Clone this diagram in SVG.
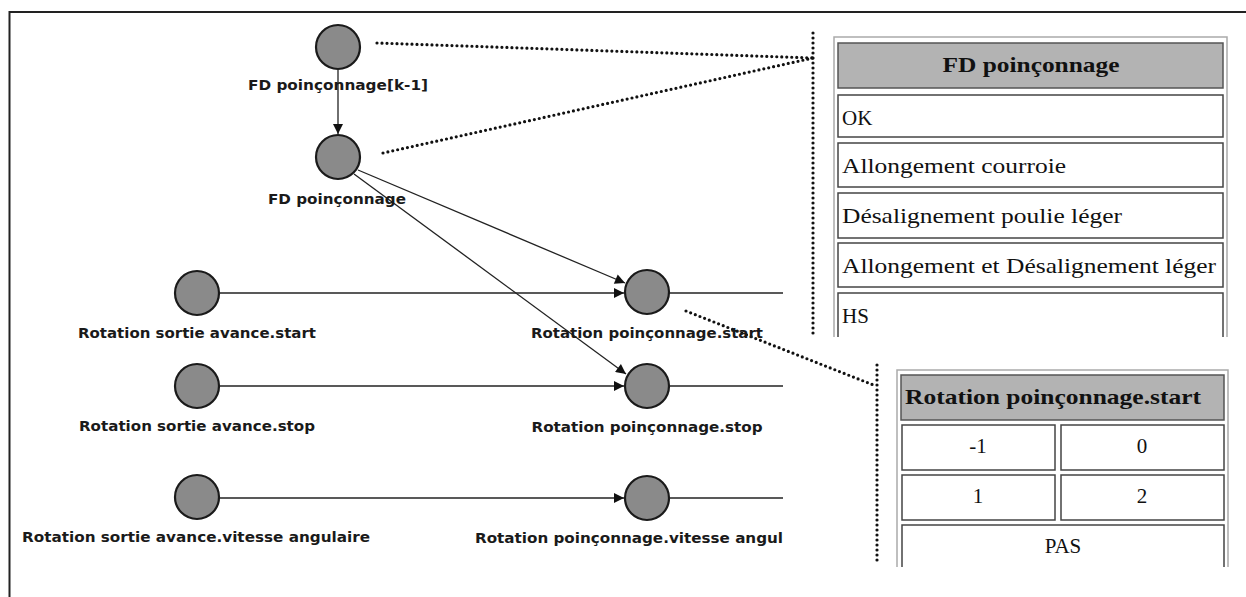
<svg xmlns="http://www.w3.org/2000/svg" width="1246" height="597" viewBox="0 0 1246 597">
<defs>
<marker id="arr" viewBox="0 0 10 10" refX="10" refY="5" markerWidth="11" markerHeight="10" markerUnits="userSpaceOnUse" orient="auto">
<path d="M0,0 L10,5 L0,10 Z" fill="#111"/>
</marker>
</defs>
<style>
.nd{fill:#8a8a8a;stroke:#1a1a1a;stroke-width:2.2}
.lbl{font-family:"DejaVu Sans",Verdana,sans-serif;font-weight:bold;font-size:13.5px;fill:#1a1a1a;text-anchor:middle}
.ln{stroke:#222;stroke-width:1.3;fill:none}
.dot{stroke:#111;stroke-width:3.2;stroke-linecap:round;stroke-dasharray:0 5;fill:none}
.tb{fill:#fff;stroke:#aaa;stroke-width:1.5}
.hd{fill:#b3b3b3;stroke:#555;stroke-width:1.5}
.cell{fill:#fff;stroke:#444;stroke-width:1.5}
.tt{font-family:"Liberation Serif","Times New Roman",serif;font-size:21px;fill:#111}
.th{font-family:"Liberation Serif","Times New Roman",serif;font-size:21px;font-weight:bold;fill:#111}
</style>
<rect width="1246" height="597" fill="#fff"/>
<path d="M9.5,597 V12 H1246" fill="none" stroke="#222" stroke-width="2"/>

<g id="connectors">
<line class="ln" x1="338" y1="70" x2="338" y2="134" marker-end="url(#arr)"/>
<line class="ln" x1="358" y1="170" x2="625" y2="283" marker-end="url(#arr)"/>
<line class="ln" x1="354" y1="174" x2="626" y2="374" marker-end="url(#arr)"/>
<line class="ln" x1="220" y1="293" x2="624" y2="293" marker-end="url(#arr)"/>
<line class="ln" x1="220" y1="386" x2="624" y2="386" marker-end="url(#arr)"/>
<line class="ln" x1="220" y1="498" x2="624" y2="498" marker-end="url(#arr)"/>
<line class="ln" x1="670" y1="293" x2="783" y2="293"/>
<line class="ln" x1="670" y1="386" x2="783" y2="386"/>
<line class="ln" x1="670" y1="498" x2="783" y2="498"/>
<line class="dot" x1="377" y1="43" x2="813" y2="58"/>
<line class="dot" x1="383" y1="153" x2="813" y2="58"/>
<line class="dot" x1="813" y1="33" x2="813" y2="335"/>
<line class="dot" x1="686" y1="311" x2="876" y2="386"/>
<line class="dot" x1="877" y1="365" x2="877" y2="562"/>
</g>

<g id="n_fd_k1">
<circle class="nd" cx="338" cy="47" r="22"/>
<text class="lbl" x="338" y="90" textLength="180" lengthAdjust="spacingAndGlyphs">FD poinçonnage[k-1]</text>
</g>
<g id="n_fd">
<circle class="nd" cx="338" cy="157" r="22"/>
<text class="lbl" x="337" y="204" textLength="138" lengthAdjust="spacingAndGlyphs">FD poinçonnage</text>
</g>
<g id="n_rsa_start">
<circle class="nd" cx="197" cy="293" r="22"/>
<text class="lbl" x="197" y="338" textLength="238" lengthAdjust="spacingAndGlyphs">Rotation sortie avance.start</text>
</g>
<g id="n_rsa_stop">
<circle class="nd" cx="197" cy="386" r="22"/>
<text class="lbl" x="197" y="431" textLength="236" lengthAdjust="spacingAndGlyphs">Rotation sortie avance.stop</text>
</g>
<g id="n_rsa_vit">
<circle class="nd" cx="197" cy="497" r="22"/>
<text class="lbl" x="196" y="542" textLength="348" lengthAdjust="spacingAndGlyphs">Rotation sortie avance.vitesse angulaire</text>
</g>
<g id="n_rp_start">
<circle class="nd" cx="647" cy="292" r="22"/>
<text class="lbl" x="647" y="338" textLength="232" lengthAdjust="spacingAndGlyphs">Rotation poinçonnage.start</text>
</g>
<g id="n_rp_stop">
<circle class="nd" cx="647" cy="386" r="22"/>
<text class="lbl" x="647" y="432" textLength="231" lengthAdjust="spacingAndGlyphs">Rotation poinçonnage.stop</text>
</g>
<g id="n_rp_vit">
<circle class="nd" cx="647" cy="498" r="22"/>
<text class="lbl" x="629" y="543" textLength="308" lengthAdjust="spacingAndGlyphs">Rotation poinçonnage.vitesse angul</text>
</g>

<g id="table_fd">
<path class="tb" d="M834,337 V37 H1227 V337"/>
<rect class="hd" x="838" y="43" width="385" height="45"/>
<text class="th" x="1031" y="72" text-anchor="middle" textLength="177" lengthAdjust="spacingAndGlyphs">FD poinçonnage</text>
<rect class="cell" x="838" y="95" width="385" height="42"/>
<text class="tt" x="842" y="125">OK</text>
<rect class="cell" x="838" y="143" width="385" height="44"/>
<text class="tt" x="842" y="173" textLength="224" lengthAdjust="spacingAndGlyphs">Allongement courroie</text>
<rect class="cell" x="838" y="193" width="385" height="45"/>
<text class="tt" x="842" y="223" textLength="280" lengthAdjust="spacingAndGlyphs">Désalignement poulie léger</text>
<rect class="cell" x="838" y="243" width="385" height="44"/>
<text class="tt" x="842" y="273" textLength="374" lengthAdjust="spacingAndGlyphs">Allongement et Désalignement léger</text>
<path class="cell" d="M838,337 V293 H1223 V337"/>
<text class="tt" x="842" y="323">HS</text>
</g>

<g id="table_rp">
<path class="tb" d="M897,567 V370 H1228 V567"/>
<rect class="hd" x="901" y="375" width="323" height="45"/>
<text class="th" x="905" y="404" textLength="296" lengthAdjust="spacingAndGlyphs">Rotation poinçonnage.start</text>
<rect class="cell" x="902" y="425" width="153" height="45"/>
<text class="tt" x="978" y="453" text-anchor="middle">-1</text>
<rect class="cell" x="1061" y="425" width="163" height="45"/>
<text class="tt" x="1142" y="453" text-anchor="middle">0</text>
<rect class="cell" x="902" y="475" width="153" height="45"/>
<text class="tt" x="978" y="503" text-anchor="middle">1</text>
<rect class="cell" x="1061" y="475" width="163" height="45"/>
<text class="tt" x="1142" y="503" text-anchor="middle">2</text>
<path class="cell" d="M902,567 V525 H1224 V567"/>
<text class="tt" x="1063" y="553" text-anchor="middle">PAS</text>
</g>
</svg>
